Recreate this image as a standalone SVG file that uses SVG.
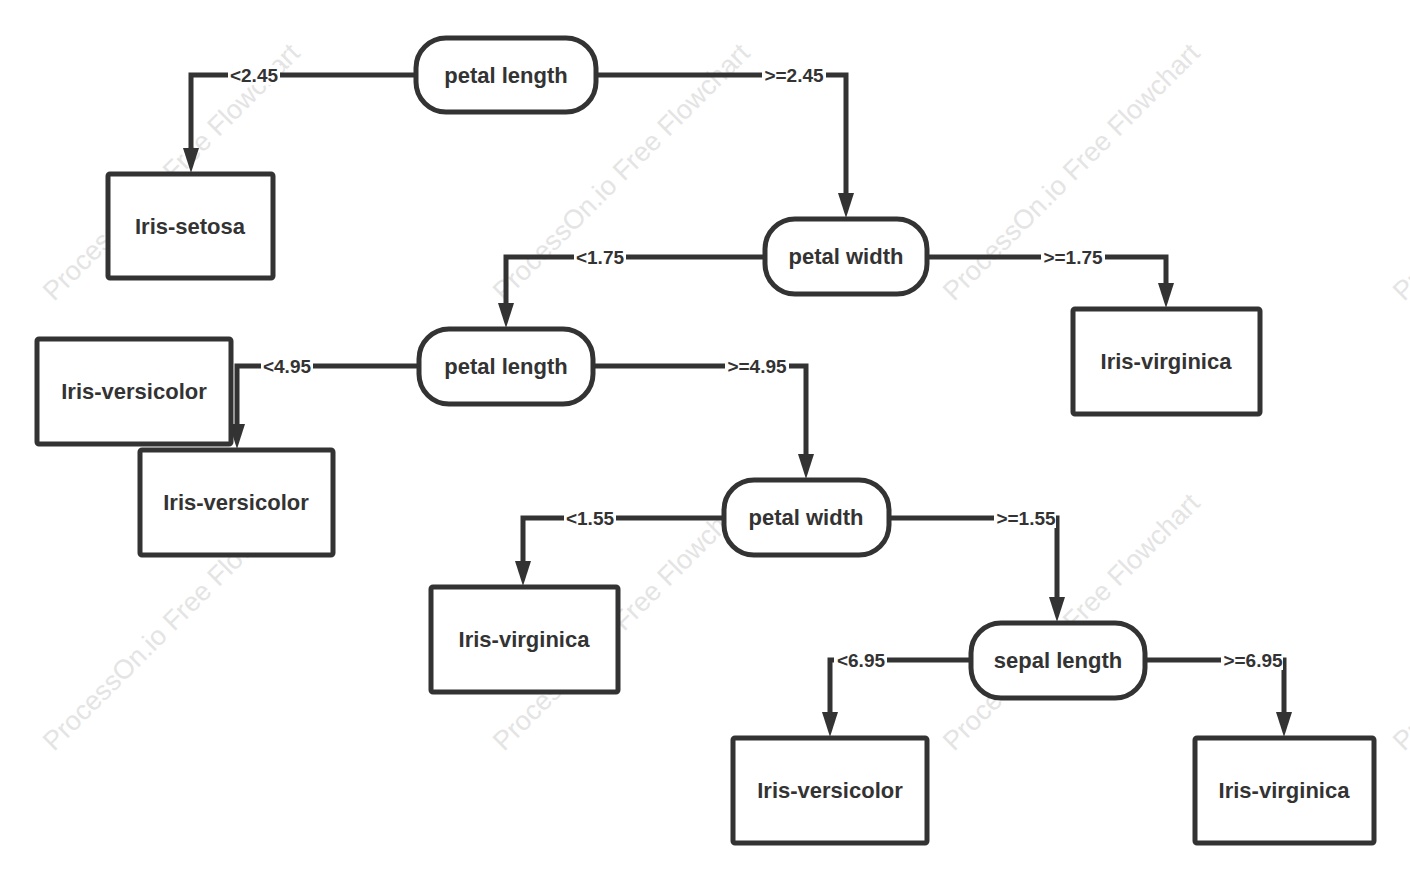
<svg xmlns="http://www.w3.org/2000/svg" width="1410" height="880" viewBox="0 0 1410 880">
<style>
.wm{font-family:"Liberation Sans",Arial,sans-serif;font-size:27px;fill:#e4e4e4}
.box{fill:#fff;stroke:#333;stroke-width:5}
.nt{font-family:"Liberation Sans",Arial,sans-serif;font-size:22px;font-weight:bold;fill:#333;text-anchor:middle;dominant-baseline:central}
.ln{fill:none;stroke:#333;stroke-width:5;stroke-linejoin:miter}
.lb{font-family:"Liberation Sans",Arial,sans-serif;font-size:19px;font-weight:bold;fill:#333;text-anchor:middle;dominant-baseline:central}
.lbg{fill:#fff}
</style>
<defs>
<marker id="ah" markerUnits="userSpaceOnUse" markerWidth="30" markerHeight="20" refX="0" refY="10" orient="auto">
<path d="M0,2 L25,10 L0,18 Z" fill="#333"/>
</marker>
</defs>
<rect width="1410" height="880" fill="#fff"/>
<g id="watermark">
<text class="wm" transform="translate(54,302) rotate(-45)">ProcessOn.io Free Flowchart</text>
<text class="wm" transform="translate(504,302) rotate(-45)">ProcessOn.io Free Flowchart</text>
<text class="wm" transform="translate(954,302) rotate(-45)">ProcessOn.io Free Flowchart</text>
<text class="wm" transform="translate(1404,302) rotate(-45)">ProcessOn.io Free Flowchart</text>
<text class="wm" transform="translate(54,752) rotate(-45)">ProcessOn.io Free Flowchart</text>
<text class="wm" transform="translate(504,752) rotate(-45)">ProcessOn.io Free Flowchart</text>
<text class="wm" transform="translate(954,752) rotate(-45)">ProcessOn.io Free Flowchart</text>
<text class="wm" transform="translate(1404,752) rotate(-45)">ProcessOn.io Free Flowchart</text>
</g>
<g id="connectors">
<path class="ln" d="M416,75 H191 V148" marker-end="url(#ah)"/>
<path class="ln" d="M596,75 H846 V193" marker-end="url(#ah)"/>
<path class="ln" d="M765,257 H506 V303" marker-end="url(#ah)"/>
<path class="ln" d="M927,257 H1166 V283" marker-end="url(#ah)"/>
<path class="ln" d="M419,366 H237 V424" marker-end="url(#ah)"/>
<path class="ln" d="M593,366 H806 V454" marker-end="url(#ah)"/>
<path class="ln" d="M724,518 H523 V561" marker-end="url(#ah)"/>
<path class="ln" d="M889,518 H1057 V597" marker-end="url(#ah)"/>
<path class="ln" d="M971,660 H830 V712" marker-end="url(#ah)"/>
<path class="ln" d="M1145,660 H1284 V712" marker-end="url(#ah)"/>
<rect class="lbg" x="228" y="65" width="52" height="20"/><text class="lb" x="254" y="75">&lt;2.45</text>
<rect class="lbg" x="762" y="65" width="64" height="20"/><text class="lb" x="794" y="75">&gt;=2.45</text>
<rect class="lbg" x="574" y="247" width="52" height="20"/><text class="lb" x="600" y="257">&lt;1.75</text>
<rect class="lbg" x="1041" y="247" width="64" height="20"/><text class="lb" x="1073" y="257">&gt;=1.75</text>
<rect class="lbg" x="261" y="356" width="52" height="20"/><text class="lb" x="287" y="366">&lt;4.95</text>
<rect class="lbg" x="725" y="356" width="64" height="20"/><text class="lb" x="757" y="366">&gt;=4.95</text>
<rect class="lbg" x="564" y="508" width="52" height="20"/><text class="lb" x="590" y="518">&lt;1.55</text>
<rect class="lbg" x="994" y="508" width="62" height="20"/><text class="lb" x="1026" y="518">&gt;=1.55</text>
<rect class="lbg" x="834" y="650" width="53" height="20"/><text class="lb" x="861" y="660">&lt;6.95</text>
<rect class="lbg" x="1221" y="650" width="62" height="20"/><text class="lb" x="1253" y="660">&gt;=6.95</text>
</g>
<g id="n_pl1"><rect class="box" x="416" y="38" width="180" height="74" rx="30"/><text class="nt" x="506" y="75">petal length</text></g>
<g id="n_setosa"><rect class="box" x="108" y="174" width="165" height="104" rx="2"/><text class="nt" x="190" y="226">Iris-setosa</text></g>
<g id="n_pw1"><rect class="box" x="765" y="219" width="162" height="75" rx="30"/><text class="nt" x="846" y="256">petal width</text></g>
<g id="n_virg1"><rect class="box" x="1073" y="309" width="187" height="105" rx="2"/><text class="nt" x="1166" y="361">Iris-virginica</text></g>
<g id="n_pl2"><rect class="box" x="419" y="329" width="174" height="75" rx="30"/><text class="nt" x="506" y="366">petal length</text></g>
<g id="n_vers1"><rect class="box" x="37" y="339" width="194" height="105" rx="2"/><text class="nt" x="134" y="391">Iris-versicolor</text></g>
<g id="n_vers2"><rect class="box" x="140" y="450" width="193" height="105" rx="2"/><text class="nt" x="236" y="502">Iris-versicolor</text></g>
<g id="n_pw2"><rect class="box" x="724" y="480" width="165" height="75" rx="30"/><text class="nt" x="806" y="517">petal width</text></g>
<g id="n_virg2"><rect class="box" x="431" y="587" width="187" height="105" rx="2"/><text class="nt" x="524" y="639">Iris-virginica</text></g>
<g id="n_sl"><rect class="box" x="971" y="623" width="174" height="75" rx="30"/><text class="nt" x="1058" y="660">sepal length</text></g>
<g id="n_vers3"><rect class="box" x="733" y="738" width="194" height="105" rx="2"/><text class="nt" x="830" y="790">Iris-versicolor</text></g>
<g id="n_virg3"><rect class="box" x="1195" y="738" width="179" height="105" rx="2"/><text class="nt" x="1284" y="790">Iris-virginica</text></g>
</svg>
